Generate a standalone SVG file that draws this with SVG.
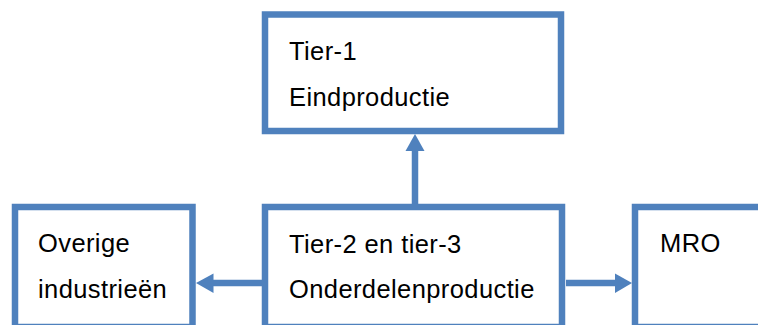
<svg xmlns="http://www.w3.org/2000/svg" width="758" height="325" viewBox="0 0 758 325">
  <style>
    .box { fill: #ffffff; stroke: #4f81bd; stroke-width: 6.5; }
    .lbl { font-family: "Liberation Sans", Arial, sans-serif; font-size: 25.5px; fill: #000000; letter-spacing: 0.4px; }
    .wire { stroke: #4f81bd; stroke-width: 6.5; fill: none; }
    .head { fill: #4f81bd; }
  </style>
  <rect width="758" height="325" fill="#ffffff"/>

  <g id="tier1">
    <rect class="box" x="265" y="14.5" width="296" height="116.5"/>
    <text class="lbl" x="289" y="60">Tier-1</text>
    <text class="lbl" x="289" y="106">Eindproductie</text>
  </g>

  <g id="overige">
    <rect class="box" x="15" y="207" width="177.5" height="120"/>
    <text class="lbl" x="38" y="252">Overige</text>
    <text class="lbl" x="38" y="298">industrieën</text>
  </g>

  <g id="tier23">
    <rect class="box" x="265" y="207" width="297" height="120"/>
    <text class="lbl" x="289" y="252.5">Tier-2 en tier-3</text>
    <text class="lbl" x="289" y="298">Onderdelenproductie</text>
  </g>

  <g id="mro">
    <rect class="box" x="635" y="207" width="200" height="120"/>
    <text class="lbl" x="660" y="252">MRO</text>
  </g>

  <g id="connectors">
    <line class="wire" x1="415" y1="204" x2="415" y2="149"/>
    <polygon class="head" points="415,134 405.5,151 424.5,151"/>
    <line class="wire" x1="262" y1="283" x2="211" y2="283"/>
    <polygon class="head" points="196,283 213.5,273.5 213.5,293"/>
    <line class="wire" x1="566" y1="283" x2="617" y2="283"/>
    <polygon class="head" points="632,283 615,273.5 615,293"/>
  </g>
</svg>
